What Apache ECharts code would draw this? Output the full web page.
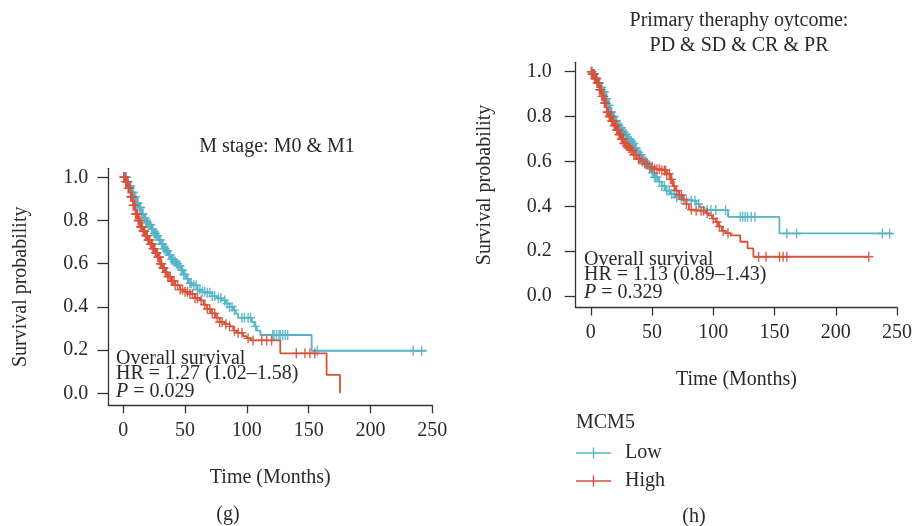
<!DOCTYPE html>
<html>
<head>
<meta charset="utf-8">
<script src="https://cdn.jsdelivr.net/npm/echarts@6/dist/echarts.min.js"></script>
<style>html,body{margin:0;padding:0;background:#fff}#c{width:915px;height:526px}</style>
</head>
<body>
<div id="c"></div>
<script>
// ---- Data ----
const xTicks = [0, 50, 100, 150, 200, 250];
const yTicks = [0, 0.2, 0.4, 0.6, 0.8, 1.0];
const groupNames = ['Low', 'High'];

// Panel (g): M stage: M0 & M1 — step points [time, survival]
const gLowSteps = [[0,1],[3,0.98],[5,0.96],[7,0.93],[9,0.91],[11,0.88],[13,0.86],[15,0.83],[17,0.81],[19,0.79],[21,0.78],[23,0.76],[25,0.74],[27,0.73],[29,0.71],[31,0.69],[33,0.67],[35,0.66],[37,0.64],[39,0.62],[41,0.61],[43,0.6],[45,0.59],[47,0.57],[49,0.55],[51,0.53],[53,0.51],[56,0.5],[60,0.48],[64,0.47],[68,0.465],[72,0.45],[76,0.44],[80,0.43],[83,0.415],[86,0.4],[89,0.385],[91,0.37],[93,0.35],[104,0.33],[106,0.31],[108,0.29],[111,0.27],[152.4,0.197],[245.4,0.197]];
const gHighSteps = [[0,1],[2,0.98],[4,0.95],[6,0.91],[8,0.87],[10,0.83],[12,0.8],[14,0.77],[16,0.75],[18,0.73],[20,0.71],[22,0.69],[24,0.67],[26,0.65],[28,0.63],[30,0.6],[32,0.58],[34,0.56],[36,0.54],[39,0.52],[42,0.5],[46,0.48],[50,0.47],[54,0.46],[58,0.44],[62,0.43],[65,0.41],[68,0.39],[71,0.37],[75,0.35],[78,0.33],[82,0.32],[86,0.31],[89,0.29],[92,0.28],[97,0.265],[100,0.255],[103,0.245],[127,0.185],[164.5,0.085],[175.3,0]];
const gLowCensor = [0.5,1,2,2.5,3,4,5,5.5,6,7,7.5,8,9,9.5,10,11,11.5,12,13,13.5,14,15,15.5,16,17,17.5,18,19,19.5,20,21,21.5,22,23,23.5,24,25,25.5,26,27,27.5,28,29,29.5,30,31,31.5,32,33,33.5,34,35,35.5,36,37,37.5,38,39,39.5,40,41,42,43,44,45,46,47,48,49,50,52,54,55,57,59,60,62,64,66,68,70,72,74,77,79,82,84,86,88,90,96,98,101,103,107,121,122,124,126,127,129,131,133,157,234.6,241.4];
const gHighCensor = [0.5,1,1.5,2,2.5,3,3.5,4,4.5,5,5.5,6,6.5,7,7.5,8,8.5,9,9.5,10,10.5,11,11.5,12,12.5,13,13.5,14,14.5,15,15.5,16,16.5,17,17.5,18,18.5,19,19.5,20,20.5,21,21.5,22,22.5,23,23.5,24,24.5,25,25.5,26,26.5,27,27.5,28,28.5,29,29.5,30,30.5,31,32,32.5,33,34,35,36,37,38,39,40,41,42,44,46,48,50,52,54,56,58,60,63,66,68,70,72,74,76,78,80,83,86,90,93,96,101,105,112,116,120,140,147,151,155];

// Panel (h): Primary therapy outcome
const hLowSteps = [[0,1],[2,0.99],[4,0.97],[6,0.95],[8,0.93],[10,0.91],[12,0.88],[14,0.85],[16,0.82],[18,0.8],[20,0.78],[22,0.76],[24,0.75],[26,0.73],[28,0.72],[30,0.7],[32,0.69],[34,0.68],[36,0.66],[38,0.64],[40,0.63],[42,0.61],[44,0.6],[46,0.585],[48,0.57],[50,0.55],[52,0.53],[55,0.51],[58,0.49],[61,0.47],[65,0.455],[69,0.44],[74,0.43],[80,0.425],[86,0.41],[89,0.395],[93,0.383],[112,0.353],[154,0.279],[246,0.279]];
const hHighSteps = [[0,1],[1,0.99],[3,0.97],[5,0.95],[7,0.92],[9,0.89],[11,0.86],[13,0.82],[15,0.8],[17,0.78],[19,0.76],[21,0.74],[23,0.72],[25,0.7],[27,0.68],[29,0.67],[31,0.66],[33,0.65],[35,0.63],[38,0.61],[41,0.6],[44,0.59],[48,0.576],[52,0.565],[58,0.56],[62,0.545],[65,0.52],[67,0.49],[69,0.47],[72,0.45],[75,0.43],[78,0.41],[80,0.385],[84,0.38],[94,0.37],[96,0.36],[99,0.345],[102,0.33],[104,0.31],[107,0.29],[110,0.28],[114,0.27],[122,0.242],[128,0.212],[132.7,0.175],[227,0.175]];
const hLowCensor = [0.5,1,2,2.5,3,4,4.5,5,6,6.5,7,8,8.5,9,10,10.5,11,12,12.5,13,14,14.5,15,16,16.5,17,18,18.5,19,20,20.5,21,22,22.5,23,24,24.5,25,26,26.5,27,28,28.5,29,30,30.5,31,32,32.5,33,34,34.5,35,36,36.5,37,38,39,40,41,42,43,44,45,46,47,48,49,50,51,52,53,54,56,58,60,62,64,66,68,70,74,78,82,85,88,95,98,102,110,122,124,126,128,131,134,160,168,238,244];
const hHighCensor = [0.5,1,1.5,2,2.5,3,3.5,4,4.5,5,5.5,6,6.5,7,7.5,8,8.5,9,9.5,10,10.5,11,11.5,12,12.5,13,13.5,14,14.5,15,15.5,16,16.5,17,17.5,18,18.5,19,19.5,20,20.5,21,21.5,22,22.5,23,23.5,24,24.5,25,25.5,26,26.5,27,28,29,30,31,32,33,34,35,36,37,39,40,42,44,46,48,50,52,54,56,58,60,61,62,64,65,66,68,70,72,74,76,78,82,86,90,92,95,100,103,105,108,112,137,143,154,157,160,227];

// ---- Styling ----
const BLUE = '#56b4c8', RED = '#d8523b';
const FONT = '"Liberation Serif", "DejaVu Serif", serif';
const TXT = '#2a2a2a';

function survAt(steps, t) {
  let s = steps[0][1];
  for (const p of steps) { if (p[0] <= t) s = p[1]; else break; }
  return s;
}
function censorPts(steps, times) { return times.map(t => [t, survAt(steps, t)]); }

const legendIcon = 'path://M0,6.3 L35,6.3 L35,7.7 L0,7.7 Z M16.8,1.5 L18.2,1.5 L18.2,12.5 L16.8,12.5 Z';
const plusMark = 'path://M4.2,0 L5.8,0 L5.8,10 L4.2,10 Z M0,4.3 L10,4.3 L10,5.7 L0,5.7 Z';

function xAx(gi, labelMargin, nameGap) {
  return {
    type: 'value', gridIndex: gi, min: gi === 0 ? -12.1 : -12.38, max: 250,
    name: 'Time (Months)', nameLocation: 'middle', nameGap: nameGap,
    nameTextStyle: { fontFamily: FONT, fontSize: 20, color: TXT },
    axisLine: { show: true, onZero: false, lineStyle: { color: '#333', width: 1.3 } },
    axisTick: { show: true, length: 8, customValues: xTicks, lineStyle: { color: '#333', width: 1.3 } },
    axisLabel: { customValues: xTicks, margin: labelMargin, fontFamily: FONT, fontSize: 20, color: TXT },
    splitLine: { show: false }
  };
}
function yAx(gi, min, max, labelMargin, nameGap) {
  return {
    type: 'value', gridIndex: gi, min: min, max: max,
    name: 'Survival probability', nameLocation: 'middle', nameGap: nameGap,
    nameTextStyle: { fontFamily: FONT, fontSize: 20, color: TXT },
    axisLine: { show: true, onZero: false, lineStyle: { color: '#333', width: 1.3 } },
    axisTick: { show: true, length: 11, customValues: yTicks, lineStyle: { color: '#333', width: 1.3 } },
    axisLabel: { customValues: yTicks, margin: labelMargin, fontFamily: FONT, fontSize: 20, color: TXT,
      formatter: v => v.toFixed(1) },
    splitLine: { show: false }
  };
}
function lineS(name, gi, data, color) {
  return { name: name, type: 'line', xAxisIndex: gi, yAxisIndex: gi, data: data, step: 'end',
    showSymbol: false, symbol: 'none', lineStyle: { color: color, width: 1.8 }, itemStyle: { color: color },
    silent: true, animation: false, z: 2 };
}
function censS(name, gi, data, color) {
  return { name: name, type: 'scatter', xAxisIndex: gi, yAxisIndex: gi, data: data,
    symbol: plusMark, symbolSize: [9, 10], itemStyle: { color: color, opacity: 0.9 },
    silent: true, animation: false, z: 3 };
}

function txt(x, y, text, extra) {
  return Object.assign({ type: 'text', x: x, y: y, silent: true,
    style: Object.assign({ text: text, fontFamily: FONT, fontSize: 20, fill: TXT, align: 'left', verticalAlign: 'middle' }, extra || {}) });
}
function pLine(x, y, val) {
  return { type: 'text', x: x, y: y, silent: true,
    style: { text: '{i|P} = ' + val, rich: { i: { fontStyle: 'italic', fontFamily: FONT, fontSize: 20, fill: TXT } },
      fontFamily: FONT, fontSize: 20, fill: TXT, verticalAlign: 'middle' } };
}

const chart = echarts.init(document.getElementById('c'), null, { renderer: 'canvas' });
chart.setOption({
  animation: false,
  backgroundColor: '#fff',
  grid: [
    { left: 108.3, top: 168.3, width: 324, height: 237 },
    { left: 575.7, top: 62.3, width: 325.3, height: 245.2 }
  ],
  xAxis: [xAx(0, 15, 62), xAx(1, 15, 62)],
  yAxis: [yAx(0, -0.0556, 1.0417, 20, 78), yAx(1, -0.0512, 1.0419, 24, 81)],
  legend: {
    data: groupNames.map(n => ({ name: n, icon: legendIcon })),
    orient: 'vertical', left: 576, top: 443, padding: 0, itemWidth: 35, itemHeight: 11, itemGap: 8,
    selectedMode: false,
    textStyle: { fontFamily: FONT, fontSize: 20, color: TXT, padding: [0, 0, 0, 9] }
  },
  series: [
    lineS('Low', 0, gLowSteps, BLUE), censS('Low', 0, censorPts(gLowSteps, gLowCensor), BLUE),
    lineS('High', 0, gHighSteps, RED), censS('High', 0, censorPts(gHighSteps, gHighCensor), RED),
    lineS('Low', 1, hLowSteps, BLUE), censS('Low', 1, censorPts(hLowSteps, hLowCensor), BLUE),
    lineS('High', 1, hHighSteps, RED), censS('High', 1, censorPts(hHighSteps, hHighCensor), RED)
  ],
  graphic: [
    txt(277, 147, 'M stage: M0 & M1', { align: 'center' }),
    txt(739, 21, 'Primary theraphy oytcome:', { align: 'center' }),
    txt(739, 46, 'PD & SD & CR & PR', { align: 'center' }),
    txt(116, 359, 'Overall survival'),
    txt(116, 374, 'HR = 1.27 (1.02\u20131.58)'),
    pLine(116, 392, '0.029'),
    txt(584, 260, 'Overall survival'),
    txt(584, 275, 'HR = 1.13 (0.89\u20131.43)'),
    pLine(584, 293, '0.329'),
    txt(576, 423, 'MCM5'),
    txt(228, 515, '(g)', { align: 'center' }),
    txt(694, 517, '(h)', { align: 'center' })
  ]
});
</script>
</body>
</html>
